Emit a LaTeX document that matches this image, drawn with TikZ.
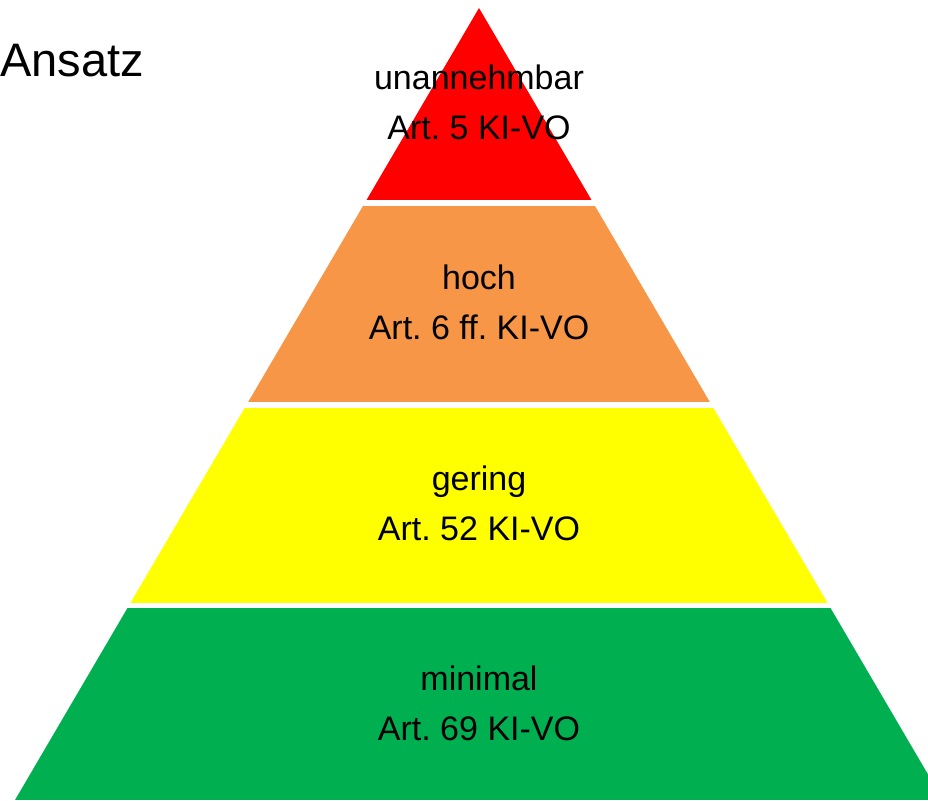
\documentclass[tikz,border=0pt]{standalone}
\usepackage{fontspec}
\setmainfont{Liberation Sans}
\frenchspacing
\definecolor{cRed}{HTML}{FF0000}
\definecolor{cOrange}{HTML}{F79646}
\definecolor{cYellow}{HTML}{FFFF00}
\definecolor{cGreen}{HTML}{00B050}
\begin{document}
\begin{tikzpicture}[x=1pt,y=-1pt,
  lbl/.style={anchor=base,inner sep=0pt,font=\fontsize{34}{40}\selectfont\frenchspacing,text=black}]
\useasboundingbox (0,0) rectangle (928,800);
\begin{scope}
  \clip (0,0) rectangle (928,800);
  \clip (479,8) -- (15,800) -- (943,800) -- cycle;
  \fill[cRed]    (0,0)     rectangle (928,200);
  \fill[cOrange] (0,206)   rectangle (928,402);
  \fill[cYellow] (0,407.5) rectangle (928,602.5);
  \fill[cGreen]  (0,608)   rectangle (928,800);
\end{scope}
\node[anchor=base west,inner sep=0pt,font=\fontsize{47}{56}\selectfont] (ansatz) at (0,77) {Ansatz};
\node[lbl] (r1) at (479,89) {unannehmbar};
\node[lbl] (r2) at (479,139) {Art. 5 KI-VO};
\node[lbl] (o1) at (479,289) {hoch};
\node[lbl] (o2) at (479,339) {Art. 6 ff. KI-VO};
\node[lbl] (y1) at (479,490) {gering};
\node[lbl] (y2) at (479,540) {Art. 52 KI-VO};
\node[lbl] (g1) at (479,690) {minimal};
\node[lbl] (g2) at (479,740) {Art. 69 KI-VO};
\end{tikzpicture}
\end{document}
